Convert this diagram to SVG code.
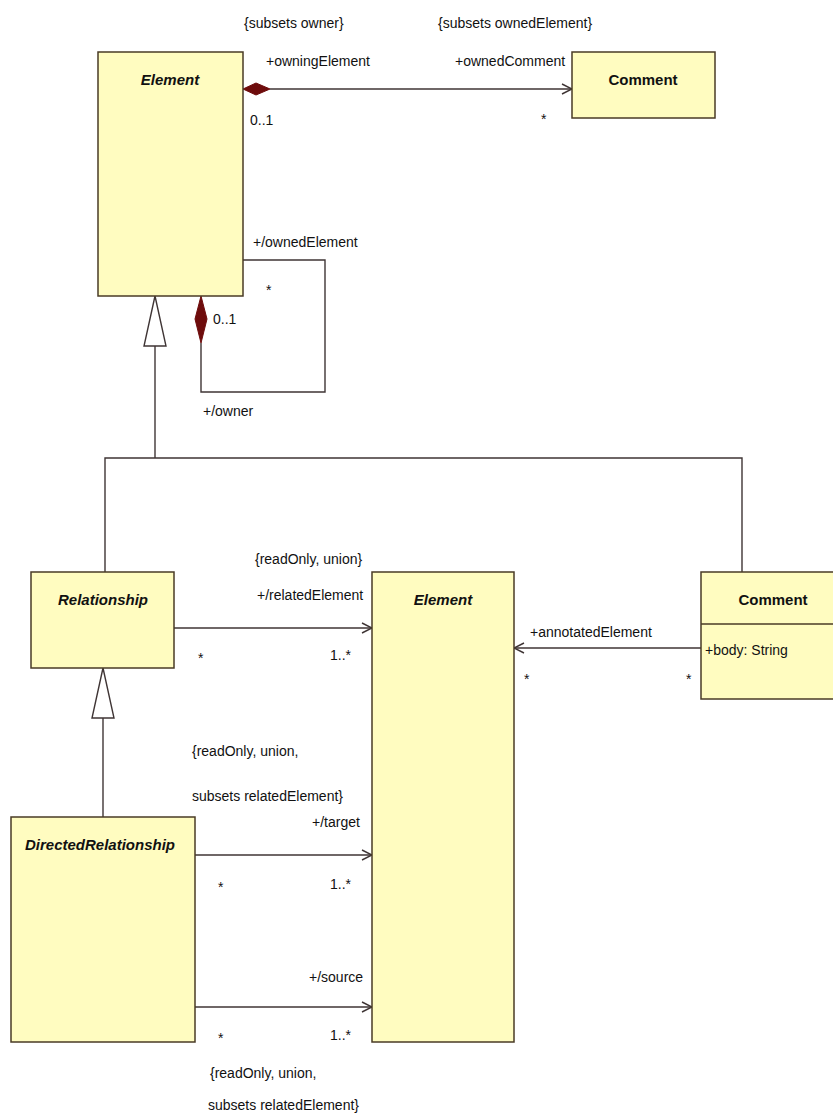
<svg xmlns="http://www.w3.org/2000/svg" width="833" height="1118" viewBox="0 0 833 1118">
<defs>
<style>
.box{fill:#FFFCC0;stroke:#4a3b26;stroke-width:1.5}
.ln{fill:none;stroke:#3f3535;stroke-width:1.4}
.t{font-family:"Liberation Sans",Arial,sans-serif;font-size:14px;fill:#111}
.ti{font-family:"Liberation Sans",Arial,sans-serif;font-size:15px;font-weight:bold;font-style:italic;fill:#111;text-anchor:middle}
.tb{font-family:"Liberation Sans",Arial,sans-serif;font-size:15px;font-weight:bold;fill:#111;text-anchor:middle}
.dia{fill:#6e0c0c;stroke:#6e0c0c;stroke-width:1}
.gen{fill:#fff;stroke:#3f3535;stroke-width:1.4}
</style>
<marker id="open" viewBox="0 0 12 12" refX="11" refY="6" markerWidth="12" markerHeight="12" markerUnits="userSpaceOnUse" orient="auto">
<path d="M1,1 L11,6 L1,11" fill="none" stroke="#3f3535" stroke-width="1.4"/>
</marker>
</defs>
<rect width="833" height="1118" fill="#fff"/>

<g id="connectors">
<line class="ln" x1="270" y1="89" x2="572" y2="89" marker-end="url(#open)"/>
<polygon class="dia" points="243,89 256,83 270,89 256,95"/>
<polyline class="ln" points="243,260 325,260 325,392 201,392 201,343"/>
<polygon class="dia" points="201,296 195,319 201,343 207,319"/>
<polyline class="ln" points="155,346 155,458"/>
<polyline class="ln" points="105,572 105,458 742,458 742,572"/>
<polygon class="gen" points="155,296 144,346 166,346"/>
<line class="ln" x1="174" y1="628" x2="372" y2="628" marker-end="url(#open)"/>
<line class="ln" x1="701" y1="648" x2="514" y2="648" marker-end="url(#open)"/>
<line class="ln" x1="103" y1="718" x2="103" y2="817"/>
<polygon class="gen" points="103,668 92,718 114,718"/>
<line class="ln" x1="195" y1="855" x2="372" y2="855" marker-end="url(#open)"/>
<line class="ln" x1="195" y1="1007" x2="372" y2="1007" marker-end="url(#open)"/>

<text class="t" x="244" y="28">{subsets owner}</text>
<text class="t" x="266" y="66">+owningElement</text>
<text class="t" x="250" y="125">0..1</text>
<text class="t" x="438" y="28">{subsets ownedElement}</text>
<text class="t" x="455" y="66">+ownedComment</text>
<text class="t" x="541" y="124">*</text>
<text class="t" x="253" y="247">+/ownedElement</text>
<text class="t" x="266" y="295">*</text>
<text class="t" x="213" y="324">0..1</text>
<text class="t" x="203" y="416">+/owner</text>
<text class="t" x="255" y="564">{readOnly, union}</text>
<text class="t" x="257" y="600">+/relatedElement</text>
<text class="t" x="198" y="663">*</text>
<text class="t" x="330" y="660">1..*</text>
<text class="t" x="530" y="637">+annotatedElement</text>
<text class="t" x="524" y="684">*</text>
<text class="t" x="686" y="684">*</text>
<text class="t" x="192" y="756">{readOnly, union,</text>
<text class="t" x="192" y="801">subsets relatedElement}</text>
<text class="t" x="312" y="827">+/target</text>
<text class="t" x="218" y="892">*</text>
<text class="t" x="330" y="889">1..*</text>
<text class="t" x="309" y="982">+/source</text>
<text class="t" x="218" y="1043">*</text>
<text class="t" x="330" y="1040">1..*</text>
<text class="t" x="210" y="1078">{readOnly, union,</text>
<text class="t" x="208" y="1110">subsets relatedElement}</text>
</g>

<g id="element-top">
<rect class="box" x="98" y="52" width="145" height="244"/>
<text class="ti" x="170" y="85">Element</text>
</g>
<g id="comment-top">
<rect class="box" x="572" y="52" width="143" height="66"/>
<text class="tb" x="643" y="85">Comment</text>
</g>
<g id="relationship">
<rect class="box" x="31" y="572" width="143" height="96"/>
<text class="ti" x="103" y="605">Relationship</text>
</g>
<g id="element-main">
<rect class="box" x="372" y="572" width="142" height="470"/>
<text class="ti" x="443" y="605">Element</text>
</g>
<g id="comment-main">
<rect class="box" x="701" y="572" width="140" height="127"/>
<line x1="701" y1="624" x2="841" y2="624" stroke="#4a3b26" stroke-width="1.5"/>
<text class="tb" x="773" y="605">Comment</text>
<text class="t" x="705" y="655">+body: String</text>
</g>
<g id="directed-relationship">
<rect class="box" x="11" y="817" width="184" height="225"/>
<text class="ti" x="100" y="850">DirectedRelationship</text>
</g>
</svg>
